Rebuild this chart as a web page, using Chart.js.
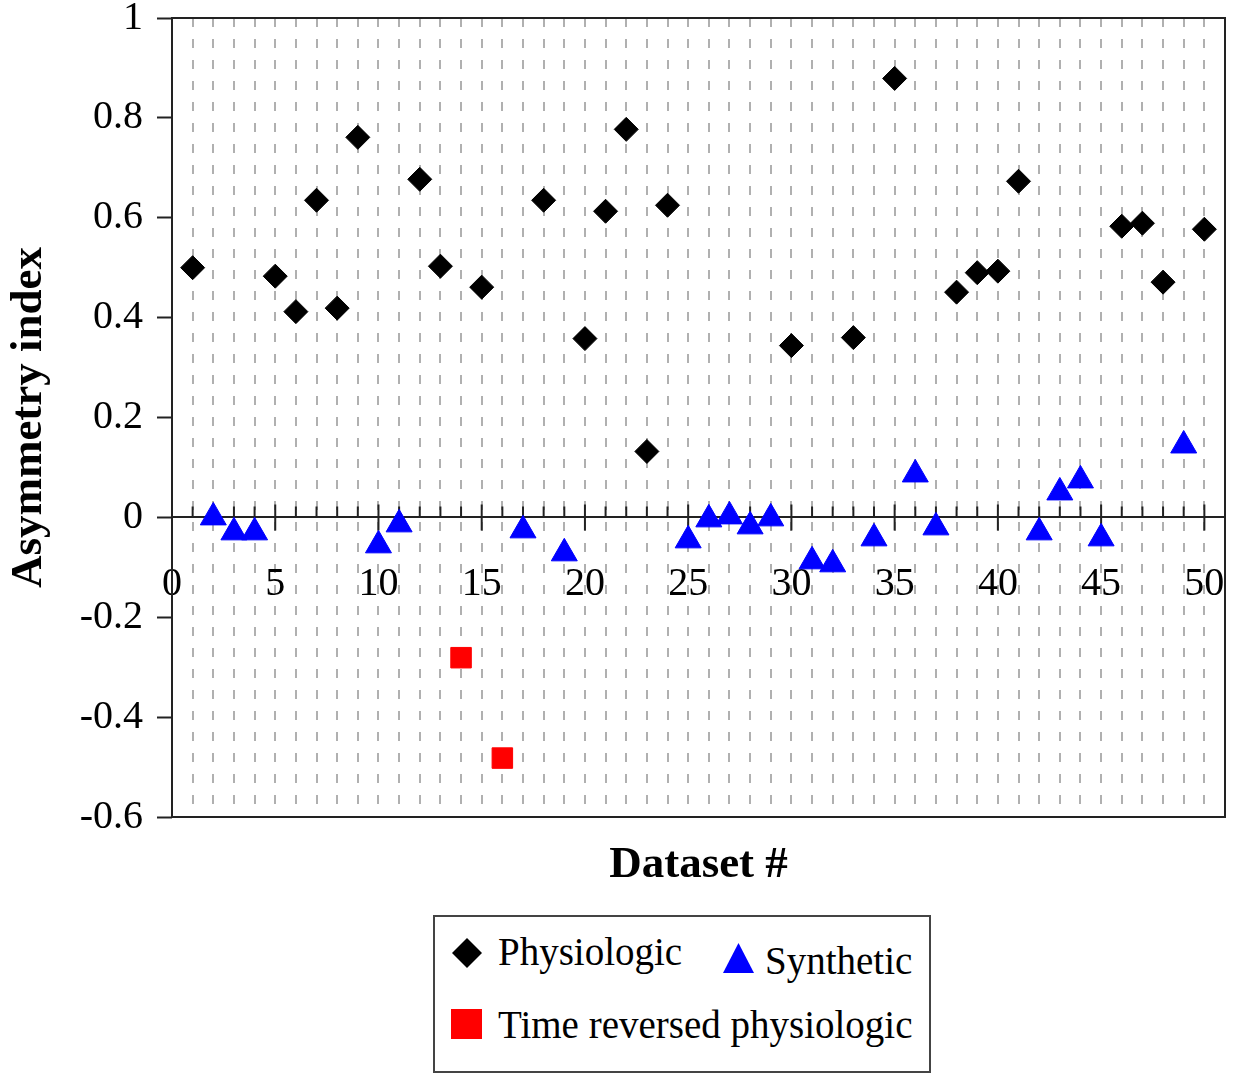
<!DOCTYPE html>
<html>
<head>
<meta charset="utf-8">
<script src="https://cdn.jsdelivr.net/npm/chart.js@4.4.0/dist/chart.umd.min.js"></script>
<style>
  body { margin: 0; background: #fff; }
  #wrap { position: relative; width: 1236px; height: 1074px; }
  #chartBox { position: absolute; left: 0; top: 0; width: 1236px; height: 900px; }
  #legend { position: absolute; left: 433px; top: 915px; width: 498px; height: 158px; border: 2px solid #444; box-sizing: border-box; font-family: "Liberation Serif", serif; font-size: 39px; color: #000; }
  #legend span { position: absolute; line-height: 1; white-space: nowrap; }
  #legend svg { position: absolute; }
</style>
</head>
<body>
<div id="wrap">
  <div id="chartBox"><canvas id="asymChart"></canvas></div>
  <div id="legend">
    <svg style="left:17px;top:21px" width="30" height="30"><polygon points="15,0 30,15 15,30 0,15" fill="#000"/></svg>
    <span style="left:63px;top:15px">Physiologic</span>
    <svg style="left:288px;top:26px" width="31" height="30"><polygon points="15.5,0 31,30 0,30" fill="#0000ff"/></svg>
    <span style="left:330px;top:24px">Synthetic</span>
    <svg style="left:16px;top:92px" width="31" height="30"><rect x="0" y="0" width="31" height="30" fill="#ff0000"/></svg>
    <span style="left:63px;top:88px">Time reversed physiologic</span>
  </div>
</div>
<script>
// Physiologic datasets (diamonds)
const physioX = [1, 5, 6, 7, 8, 9, 12, 13, 15, 18, 20, 21, 22, 23, 24, 30, 33, 35, 38, 39, 40, 41, 46, 47, 48, 50];
const physioY = [0.50, 0.483, 0.412, 0.635, 0.419, 0.761, 0.677, 0.503, 0.461, 0.635, 0.358, 0.613, 0.777, 0.132, 0.625,
                 0.344, 0.36, 0.879, 0.451, 0.49, 0.493, 0.673, 0.583, 0.589, 0.471, 0.577];

// Synthetic datasets (triangles)
const synthX = [2, 3, 4, 10, 11, 17, 19, 25, 26, 27, 28, 29, 31, 32, 34, 36, 37, 42, 43, 44, 45, 49];
const synthY = [0.0, -0.03, -0.03, -0.056, -0.014, -0.026, -0.072, -0.046, -0.004, 0.002, -0.018, -0.002,
                -0.088, -0.094, -0.042, 0.086, -0.02, -0.03, 0.05, 0.074, -0.042, 0.144];

// Time reversed physiologic (squares)
const reversedX = [14, 16];
const reversedY = [-0.281, -0.482];

// Axis ranges
const xMin = 0, xMax = 51;
const yMin = -0.6, yMax = 1;

const serif = '"Liberation Serif", "Times New Roman", serif';

// Turn two arrays into {x, y} points
function toPoints(xs, ys) {
    return xs.map((x, i) => ({ x: x, y: ys[i] }));
}

// Draws the frame around the plot and the tick marks on the zero line
const framePlugin = {
    id: 'frame',
    beforeDatasetsDraw(chart) {
        const { ctx, chartArea: a, scales } = chart;
        const y0 = scales.y.getPixelForValue(0);
        ctx.save();
        ctx.strokeStyle = '#222';
        ctx.lineWidth = 2;
        ctx.strokeRect(a.left, a.top, a.right - a.left, a.bottom - a.top);
        ctx.beginPath();
        scales.x0.ticks.forEach(t => {
            if (t.value <= xMin || t.value >= xMax) return;
            const px = scales.x0.getPixelForValue(t.value);
            if (t.value % 5 === 0) {
                ctx.moveTo(px, y0 - 13);
                ctx.lineTo(px, y0 + 13);
            } else {
                ctx.moveTo(px, y0 - 11);
                ctx.lineTo(px, y0);
            }
        });
        ctx.stroke();
        ctx.restore();
    }
};

new Chart(document.getElementById('asymChart').getContext('2d'), {
    type: 'scatter',
    data: {
        datasets: [
            {
                label: 'Physiologic',
                data: toPoints(physioX, physioY),
                pointStyle: 'rectRot',
                pointRadius: 12,
                backgroundColor: '#000',
                borderColor: '#000',
                borderWidth: 1
            },
            {
                label: 'Synthetic',
                data: toPoints(synthX, synthY),
                pointStyle: 'triangle',
                pointRadius: 15,
                backgroundColor: '#0000ff',
                borderColor: '#0000ff',
                borderWidth: 1
            },
            {
                label: 'Time reversed physiologic',
                data: toPoints(reversedX, reversedY),
                pointStyle: 'rect',
                pointRadius: 14.5,
                backgroundColor: '#ff0000',
                borderColor: '#ff0000',
                borderWidth: 1
            }
        ]
    },
    options: {
        responsive: true,
        maintainAspectRatio: false,
        animation: false,
        layout: { autoPadding: false, padding: { left: 0, top: 18, right: 11, bottom: 0 } },
        plugins: {
            legend: { display: false },
            tooltip: { enabled: false }
        },
        scales: {
            x: {
                type: 'linear',
                position: 'bottom',
                min: xMin,
                max: xMax,
                ticks: { display: false, stepSize: 1, autoSkip: false, maxTicksLimit: 100 },
                grid: { color: '#b0b0b0', lineWidth: 2, drawTicks: false },
                border: { display: false, dash: [9, 12] },
                title: {
                    display: true,
                    text: 'Dataset #',
                    color: '#000',
                    font: { family: serif, size: 45, weight: 'bold' },
                    padding: { top: 8, bottom: 8 }
                },
                afterFit: s => { s.height = 83; s.paddingLeft = 0; s.paddingRight = 0; }
            },
            x0: {
                type: 'linear',
                position: { y: 0 },
                min: xMin,
                max: xMax,
                ticks: {
                    stepSize: 1,
                    autoSkip: false,
                    maxRotation: 0,
                    maxTicksLimit: 100,
                    padding: 43,
                    color: '#000',
                    font: { family: serif, size: 40 },
                    callback: v => (v % 5 === 0 && v <= 50 ? v : '')
                },
                grid: { drawOnChartArea: false, drawTicks: false },
                border: { display: true, color: '#222', width: 2 },
                afterFit: s => { s.height = 0; s.paddingLeft = 0; s.paddingRight = 0; }
            },
            y: {
                type: 'linear',
                min: yMin,
                max: yMax,
                ticks: {
                    stepSize: 0.2,
                    padding: 14,
                    color: '#000',
                    font: { family: serif, size: 40 },
                    callback: v => Math.round(v * 10) / 10
                },
                grid: { drawOnChartArea: false, drawTicks: true, tickLength: 15, tickColor: '#222', tickWidth: 2 },
                border: { display: false },
                title: {
                    display: true,
                    text: 'Asymmetry index',
                    color: '#000',
                    font: { family: serif, size: 45, weight: 'bold' },
                    padding: { top: 2, bottom: 2 }
                },
                afterFit: s => { s.width = 172; s.paddingTop = 0; s.paddingBottom = 0; }
            }
        }
    },
    plugins: [framePlugin]
});
</script>
</body>
</html>
